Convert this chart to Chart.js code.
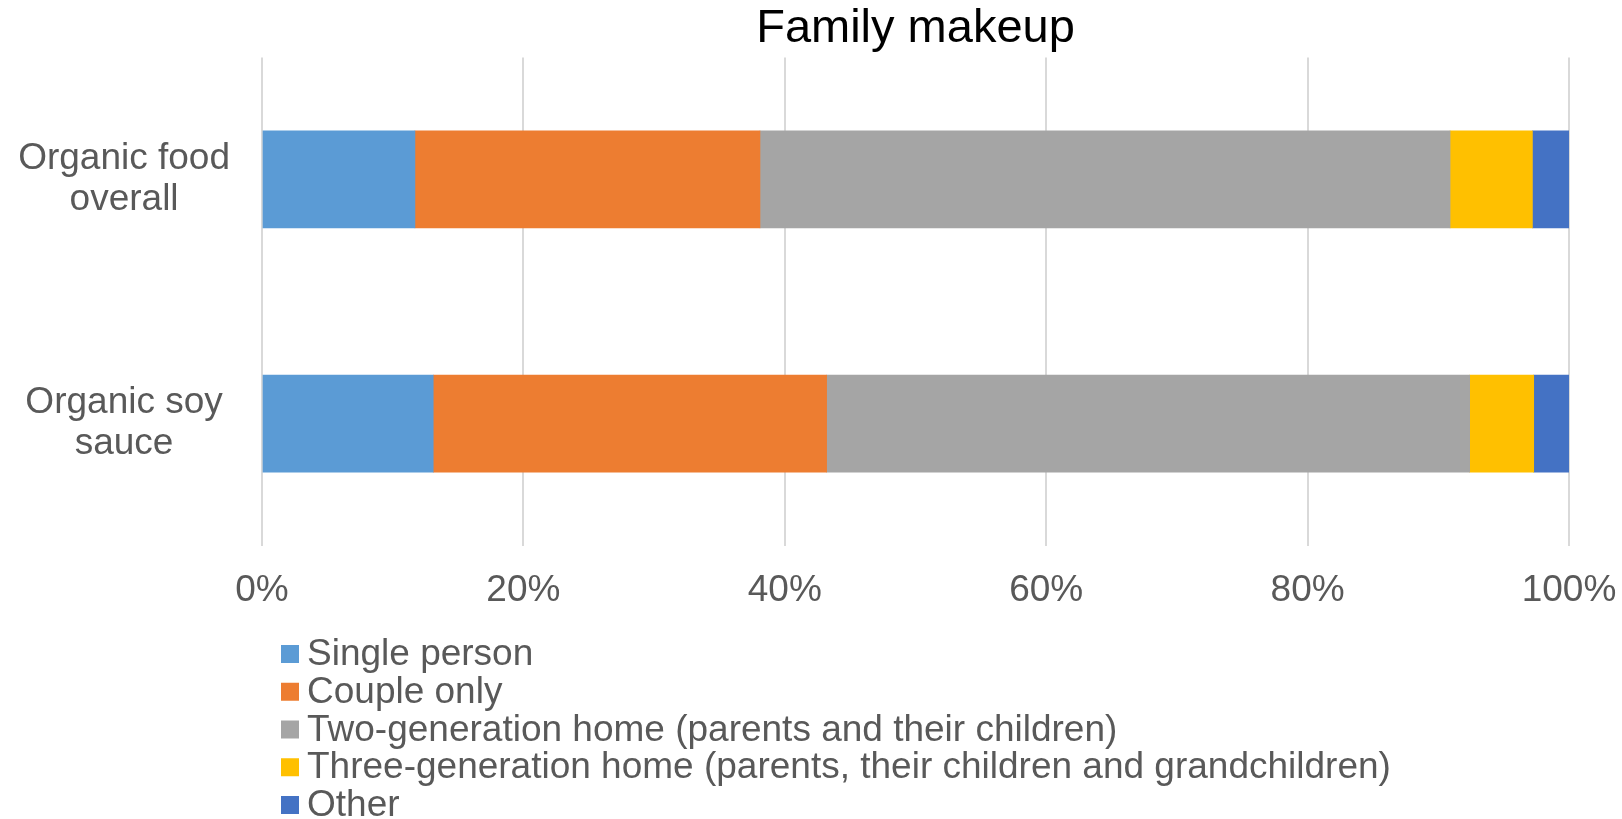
<!DOCTYPE html>
<html>
<head>
<meta charset="utf-8">
<style>
  body { margin: 0; background: #fff; }
  .chart { width: 1622px; height: 819px; }
</style>
<script src="https://cdn.jsdelivr.net/npm/chart.js"></script>
</head>
<body>
<div class="chart">
  <canvas id="myChart"></canvas>
</div>
<script type="text/javascript">
  // categories and shares (%) per family type
  const categories = [['Organic food', 'overall'], ['Organic soy', 'sauce']];
  const seriesNames = [
    'Single person',
    'Couple only',
    'Two-generation home (parents and their children)',
    'Three-generation home (parents, their children and grandchildren)',
    'Other'
  ];
  const singlePerson = [11.7, 13.1];
  const coupleOnly = [26.4, 30.1];
  const twoGeneration = [52.8, 49.2];
  const threeGeneration = [6.3, 4.9];
  const other = [2.8, 2.7];
  const xTicks = [0, 20, 40, 60, 80, 100];

  const colors = ['#5b9bd5', '#ed7d31', '#a5a5a5', '#ffc000', '#4472c4'];
  const values = [singlePerson, coupleOnly, twoGeneration, threeGeneration, other];
  const FONT = '"Liberation Sans", Arial, sans-serif';

  // legend drawn as a single column under the axis
  const columnLegend = {
    id: 'columnLegend',
    afterDraw(chart) {
      const ctx = chart.ctx;
      ctx.save();
      ctx.font = '37px ' + FONT;
      ctx.textBaseline = 'middle';
      ctx.textAlign = 'left';
      chart.data.datasets.forEach((ds, i) => {
        const y = 654 + i * 37.75;
        ctx.fillStyle = ds.backgroundColor;
        ctx.fillRect(281, y - 9, 18, 18);
        ctx.fillStyle = '#595959';
        ctx.fillText(ds.label, 307, y + 1);
      });
      ctx.restore();
    }
  };

  const ctx = document.getElementById('myChart');
  var chart = new Chart(ctx, {
    type: 'bar',
    data: {
      labels: categories,
      datasets: seriesNames.map((name, i) => ({
        label: name,
        data: values[i],
        backgroundColor: colors[i],
        borderWidth: 0,
        barThickness: 97
      }))
    },
    options: {
      indexAxis: 'y',
      responsive: true,
      maintainAspectRatio: false,
      animation: false,
      layout: { padding: { top: 0, right: 53, bottom: 206, left: 0 } },
      plugins: {
        legend: { display: false },
        tooltip: { enabled: false },
        title: {
          display: true,
          text: 'Family makeup',
          color: '#000',
          fullSize: false,
          font: { family: FONT, size: 47, weight: 'normal' },
          padding: { top: 1, bottom: 0 }
        }
      },
      scales: {
        x: {
          stacked: true,
          min: 0,
          max: 100,
          afterBuildTicks: (scale) => { scale.ticks = xTicks.map(v => ({ value: v })); },
          // invisible tick marks keep the labels clear of the plot
          grid: { color: '#d9d9d9', lineWidth: 2, drawTicks: true, tickLength: 23, tickColor: 'rgba(0,0,0,0)' },
          border: { display: false },
          ticks: {
            color: '#595959',
            padding: 0,
            maxRotation: 0,
            font: { family: FONT, size: 37 },
            callback: (v) => v + '%'
          }
        },
        y: {
          stacked: true,
          grid: { display: true, drawOnChartArea: false, drawTicks: true, tickLength: 32, tickColor: 'rgba(0,0,0,0)' },
          border: { display: false },
          afterFit: (scale) => { scale.width = 262; },
          ticks: {
            color: '#595959',
            crossAlign: 'center',
            padding: 0,
            font: { family: FONT, size: 37, lineHeight: 1.12 }
          }
        }
      }
    },
    plugins: [columnLegend]
  });
</script>
</body>
</html>
